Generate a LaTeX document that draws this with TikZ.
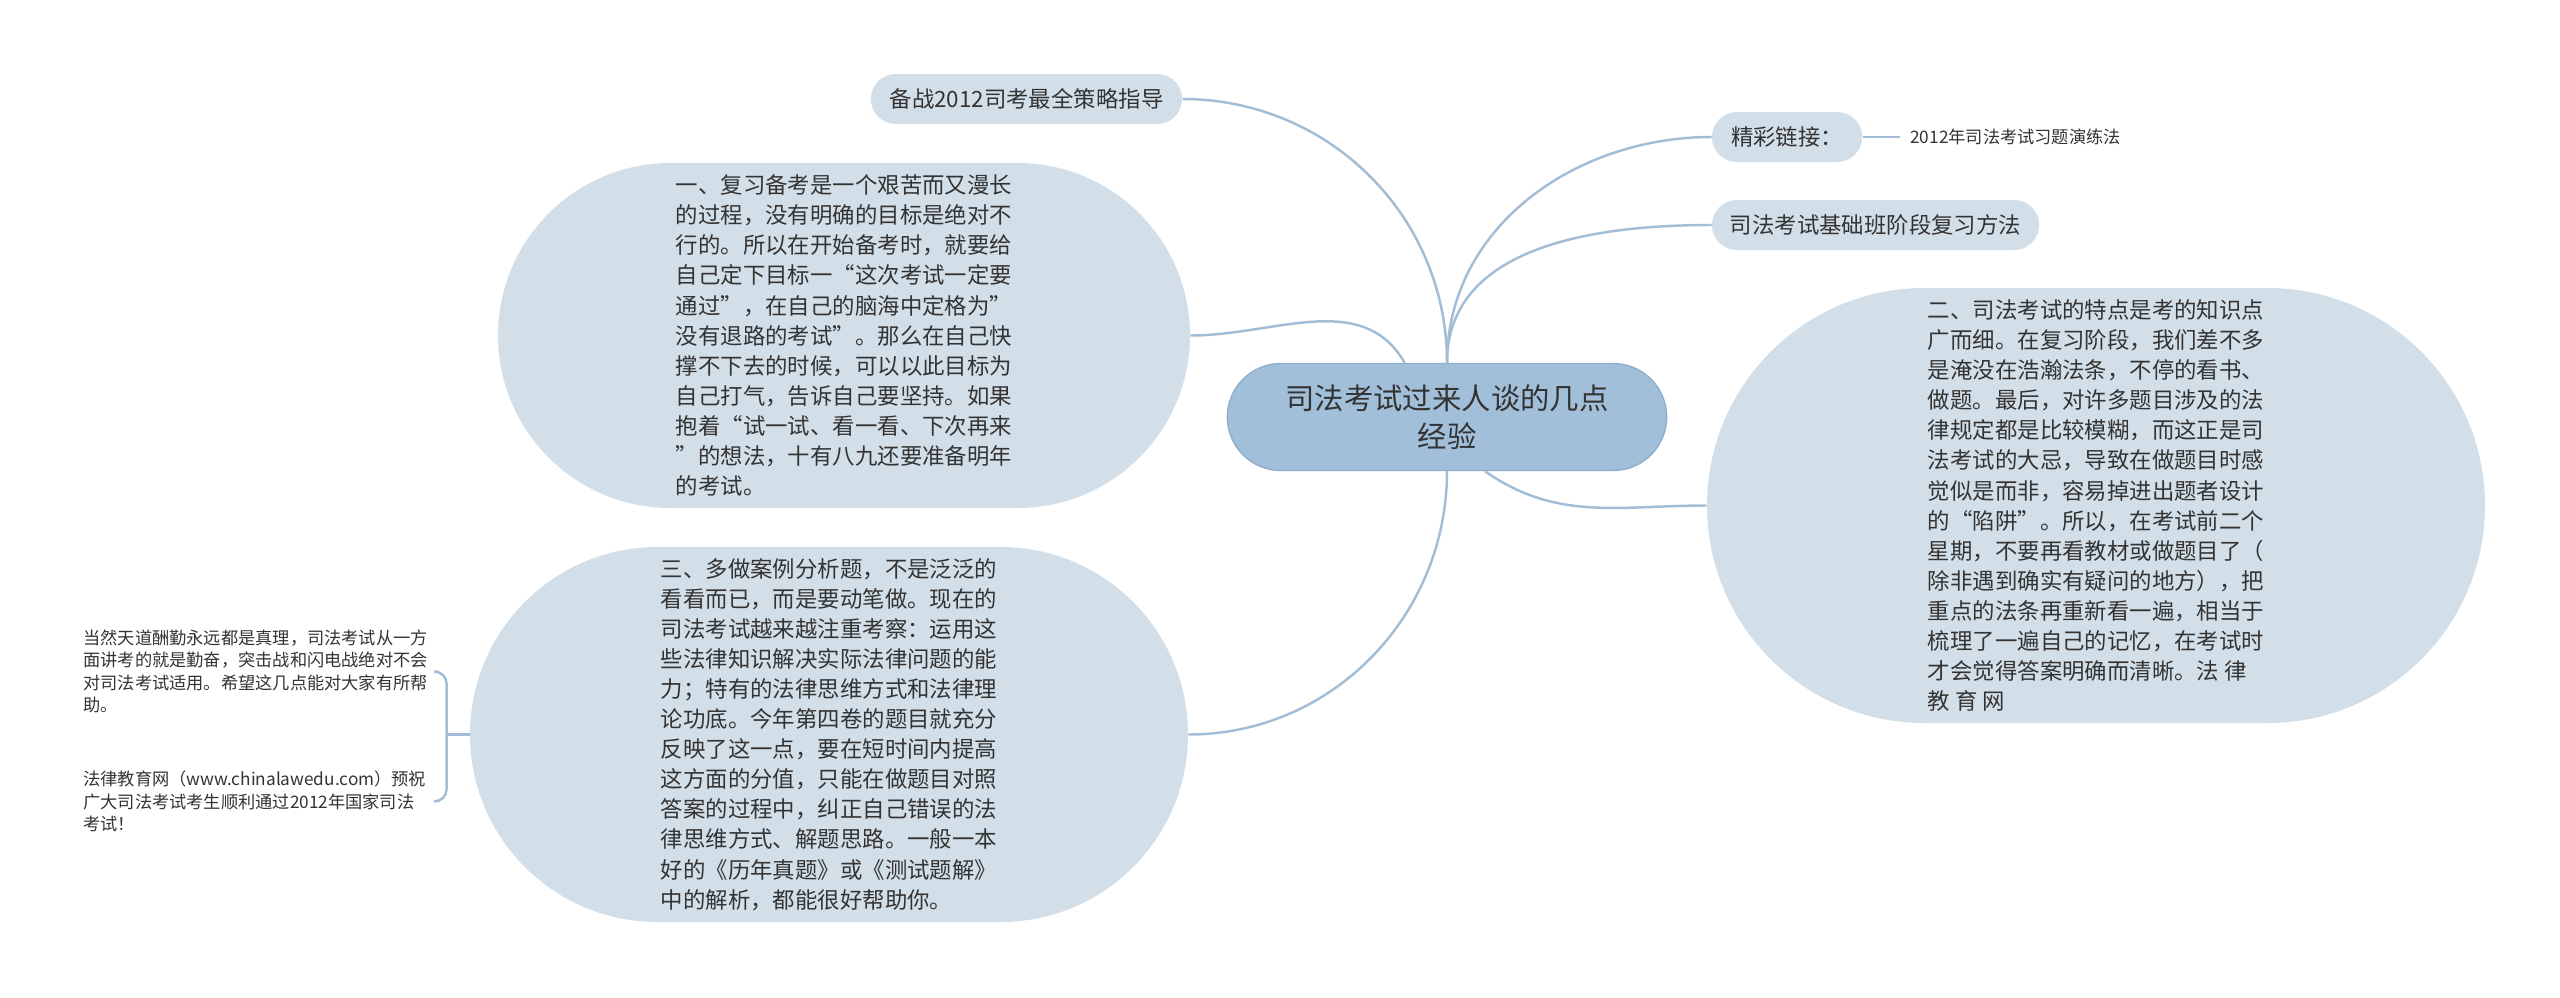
\documentclass[tikz,border=0pt]{standalone}
\usepackage{fontspec}
\setmainfont{Noto Sans CJK SC}
\usepackage{xcolor}
\usepackage{tikz}
\usetikzlibrary{shapes.misc}
\definecolor{blobFill}{HTML}{D3DFE8}
\definecolor{hubFill}{HTML}{A2BFDA}
\definecolor{hubEdge}{HTML}{8FAFCD}
\definecolor{linkBlue}{HTML}{A3BDD6}
\definecolor{inkGray}{HTML}{333333}

\begin{document}
\begin{tikzpicture}[
    hub/.style={rounded rectangle, draw=hubEdge, line width=0.8pt, fill=hubFill, text=inkGray, align=center, minimum width=9.02cm, minimum height=2.14cm, font=\fontsize{16.7}{21.6}\selectfont},
    pill/.style={rounded rectangle, fill=blobFill, text=inkGray, minimum height=1.0cm, font=\fontsize{12.75}{17.1}\selectfont},
    blob/.style={rounded rectangle, fill=blobFill, text=inkGray, align=left, inner sep=0pt, font=\fontsize{12.75}{17.1}\selectfont},
    note/.style={text=inkGray, align=left, inner sep=0.2cm, font=\fontsize{9.8}{12.7}\selectfont},
    link/.style={draw=linkBlue, line width=1.4pt}
  ]
  \fill[white] (0,0) rectangle (51.2,-19.94);

  % centre and short topics
  \node[hub] (hub) at (28.94,-8.34) {司法考试过来人谈的几点\\经验};
  \node[pill, minimum width=6.46cm] (guide) at (20.53,-1.98) {备战2012司考最全策略指导};
  \node[pill, minimum width=3.24cm] (links) at (35.74,-2.74) {精彩链接：};
  \node[note, anchor=west] (drill) at (38.0,-2.74) {2012年司法考试习题演练法};
  \node[pill, minimum width=6.78cm] (basic) at (37.51,-4.5) {司法考试基础班阶段复习方法};

  % long topics
  \node[blob, minimum width=13.84cm, minimum height=6.9cm] (tip1) at (16.88,-6.71) {%
    一、复习备考是一个艰苦而又漫长\\
    的过程，没有明确的目标是绝对不\\
    行的。所以在开始备考时，就要给\\
    自己定下目标一“这次考试一定要\\
    通过”，在自己的脑海中定格为”\\
    没有退路的考试”。那么在自己快\\
    撑不下去的时候，可以以此目标为\\
    自己打气，告诉自己要坚持。如果\\
    抱着“试一试、看一看、下次再来\\
    ”的想法，十有八九还要准备明年\\
    的考试。};
  \node[blob, minimum width=15.56cm, minimum height=8.7cm] (tip2) at (41.92,-10.11) {%
    二、司法考试的特点是考的知识点\\
    广而细。在复习阶段，我们差不多\\
    是淹没在浩瀚法条，不停的看书、\\
    做题。最后，对许多题目涉及的法\\
    律规定都是比较模糊，而这正是司\\
    法考试的大忌，导致在做题目时感\\
    觉似是而非，容易掉进出题者设计\\
    的“陷阱”。所以，在考试前二个\\
    星期，不要再看教材或做题目了（\\
    除非遇到确实有疑问的地方），把\\
    重点的法条再重新看一遍，相当于\\
    梳理了一遍自己的记忆，在考试时\\
    才会觉得答案明确而清晰。法 律\\
    教 育 网};
  \node[blob, minimum width=14.36cm, minimum height=7.5cm] (tip3) at (16.58,-14.69) {%
    三、多做案例分析题，不是泛泛的\\
    看看而已，而是要动笔做。现在的\\
    司法考试越来越注重考察：运用这\\
    些法律知识解决实际法律问题的能\\
    力；特有的法律思维方式和法律理\\
    论功底。今年第四卷的题目就充分\\
    反映了这一点，要在短时间内提高\\
    这方面的分值，只能在做题目对照\\
    答案的过程中，纠正自己错误的法\\
    律思维方式、解题思路。一般一本\\
    好的《历年真题》或《测试题解》\\
    中的解析，都能很好帮助你。};

  % notes left of tip 3
  \node[note, anchor=west] (wish1) at (1.46,-13.43) {%
    当然天道酬勤永远都是真理，司法考试从一方\\
    面讲考的就是勤奋，突击战和闪电战绝对不会\\
    对司法考试适用。希望这几点能对大家有所帮\\
    助。};
  \node[note, anchor=west] (wish2) at (1.46,-16.03) {%
    法律教育网（www.chinalawedu.com）预祝\\
    广大司法考试考生顺利通过2012年国家司法\\
    考试！};

  \draw[link] (hub.north) to[out=90,in=0] (guide.east);
  \draw[link] (hub.north) to[out=90,in=180] (links.west);
  \draw[link] (hub.north) to[out=90,in=180] (basic.west);
  \draw[link] (tip1.east) to[out=0,in=120] (hub.128);
  \draw[link] (hub.south) to[out=-90,in=0] (tip3.east);
  \draw[link] (hub.-55) to[out=-35,in=180] (tip2.west);
  \draw[link] (links.east) -- (drill.west);
  \draw[link] (tip3.west) -- ++(-0.46,0) coordinate (fork);
  \draw[link, rounded corners=0.25cm] (fork) |- (wish1.east);
  \draw[link, rounded corners=0.25cm] (fork) |- (wish2.east);
\end{tikzpicture}
\end{document}
